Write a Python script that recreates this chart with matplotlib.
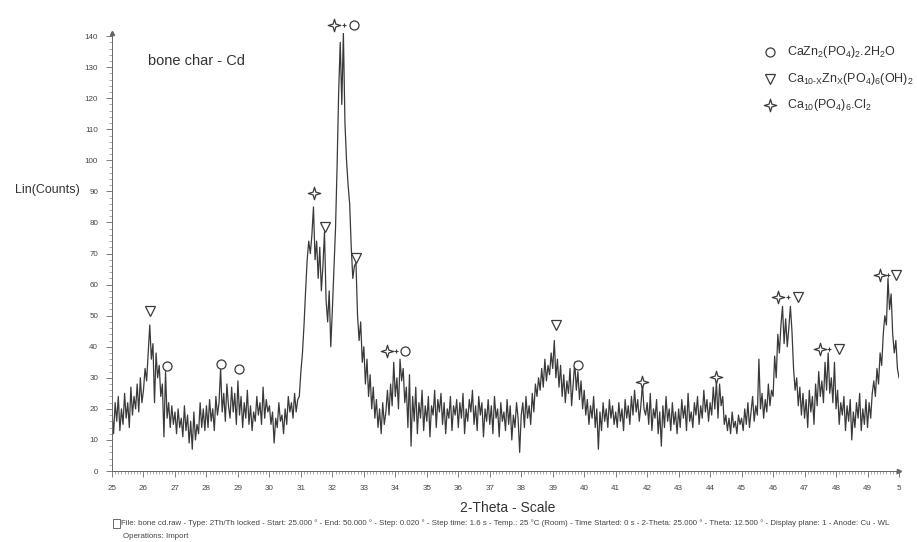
import numpy as np
import matplotlib
matplotlib.use("Agg")
from matplotlib import pyplot as plt
from matplotlib.path import Path
from matplotlib.ticker import MultipleLocator, FixedLocator

plt.rcParams['font.family'] = ['Liberation Sans', 'DejaVu Sans']
plt.rcParams['mathtext.fontset'] = 'custom'
plt.rcParams['mathtext.rm'] = 'Liberation Sans'
plt.rcParams['mathtext.it'] = 'Liberation Sans'

# XRD scan, every 0.05 deg (one row per degree)
start_2theta = 25.0
step_2theta = 0.05
c25 = [19, 12, 22, 16, 24, 13, 20, 15, 25, 17, 22, 14, 27, 18, 24, 20, 28, 19, 30, 22]
c26 = [26, 33, 29, 38, 47, 36, 41, 22, 38, 30, 34, 24, 28, 11, 32, 17, 22, 14, 21, 15]
c27 = [19, 12, 20, 14, 17, 11, 21, 13, 18, 9, 16, 7, 19, 10, 15, 12, 22, 14, 20, 13]
c28 = [21, 14, 23, 16, 20, 13, 24, 18, 22, 33, 19, 25, 16, 28, 21, 17, 27, 19, 25, 15]
c29 = [29, 18, 24, 14, 22, 17, 26, 15, 21, 13, 19, 16, 24, 18, 22, 15, 27, 17, 23, 19]
c30 = [21, 15, 19, 9, 17, 14, 22, 16, 18, 12, 20, 15, 24, 19, 22, 17, 25, 19, 23, 24]
c31 = [32, 38, 47, 58, 68, 74, 70, 76, 85, 68, 74, 62, 72, 58, 66, 77, 55, 48, 58, 40]
c32 = [52, 65, 78, 98, 122, 138, 118, 141, 112, 100, 92, 86, 72, 62, 66, 67, 50, 42, 48, 35]
c33 = [40, 28, 36, 24, 31, 20, 27, 17, 23, 14, 20, 12, 22, 15, 19, 26, 18, 28, 21, 35]
c34 = [24, 30, 20, 36, 29, 33, 22, 27, 14, 31, 8, 24, 16, 27, 12, 22, 17, 26, 13, 21]
c35 = [16, 24, 11, 21, 18, 26, 14, 23, 19, 25, 15, 22, 12, 20, 17, 24, 13, 21, 18, 23]
c36 = [14, 22, 17, 25, 12, 20, 16, 23, 19, 26, 15, 21, 13, 24, 18, 22, 11, 20, 16, 23]
c37 = [15, 21, 12, 24, 17, 20, 11, 22, 16, 19, 13, 23, 15, 21, 10, 18, 14, 22, 17, 6]
c38 = [18, 22, 14, 24, 17, 21, 15, 25, 19, 28, 24, 30, 26, 33, 27, 36, 29, 34, 31, 38]
c39 = [33, 42, 30, 36, 27, 34, 24, 31, 22, 29, 25, 33, 21, 28, 35, 26, 32, 23, 29, 20]
c40 = [26, 18, 23, 15, 21, 17, 24, 14, 20, 7, 19, 13, 22, 16, 20, 14, 23, 17, 21, 15]
c41 = [19, 14, 22, 16, 20, 13, 23, 17, 21, 15, 24, 18, 26, 19, 23, 16, 21, 28, 20, 18]
c42 = [22, 15, 25, 13, 20, 17, 23, 12, 19, 8, 21, 14, 24, 16, 20, 13, 22, 15, 19, 12]
c43 = [20, 14, 23, 17, 21, 13, 25, 16, 19, 14, 22, 18, 24, 15, 21, 17, 26, 19, 23, 16]
c44 = [22, 18, 27, 20, 29, 17, 28, 21, 24, 15, 18, 13, 17, 12, 19, 14, 16, 12, 18, 15]
c45 = [17, 13, 20, 15, 22, 14, 19, 24, 16, 21, 18, 36, 20, 25, 17, 23, 19, 28, 21, 26]
c46 = [24, 37, 30, 44, 38, 47, 53, 41, 49, 40, 46, 53, 45, 33, 26, 30, 21, 27, 18, 25]
c47 = [17, 23, 14, 26, 19, 24, 15, 28, 21, 32, 24, 29, 22, 35, 26, 38, 25, 30, 22, 35]
c48 = [20, 26, 15, 22, 18, 24, 13, 21, 16, 23, 10, 19, 14, 22, 17, 25, 13, 20, 15, 23]
c49 = [14, 22, 17, 25, 29, 24, 33, 28, 38, 34, 44, 50, 47, 62, 52, 57, 44, 38, 42, 33]
c50 = [30]

counts = np.array(c25 + c26 + c27 + c28 + c29 + c30 + c31 + c32 + c33 + c34 + c35 + c36
                  + c37 + c38 + c39 + c40 + c41 + c42 + c43 + c44 + c45 + c46 + c47
                  + c48 + c49 + c50, dtype=float)
two_theta = start_2theta + step_2theta * np.arange(len(counts))

# phase marks: single symbols (2theta, height, kind)
single_marks = [
    (26.2, 51.5, 'v'), (26.75, 33.8, 'o'), (28.47, 34.5, 'o'), (29.05, 32.8, 'o'),
    (31.42, 89.6, 's'), (31.77, 78.5, 'v'), (32.74, 68.5, 'v'),
    (39.1, 47.0, 'v'), (39.8, 34.0, 'o'), (41.85, 28.8, 's'), (44.2, 30.3, 's'),
]
# combined "star + other" marks (star 2theta, other 2theta, height, kind)
combo_marks = [
    (32.06, 32.7, 143.5, 'o'), (33.72, 34.3, 38.6, 'o'), (46.17, 46.78, 56.0, 'v'),
    (47.5, 48.08, 39.3, 'v'), (49.4, 49.9, 63.0, 'v'),
]
legend_labels = [r'CaZn$_2$(PO$_4$)$_2$.2H$_2$O',
                 r'Ca$_{10\text{-}X}$Zn$_X$(PO$_4$)$_6$(OH)$_2$',
                 r'Ca$_{10}$(PO$_4$)$_6$.Cl$_2$']
legend_kinds = ['o', 'v', 's']

x_ticks = list(range(25, 51))
x_tick_labels = [str(v) for v in range(25, 50)] + ['5']

# four pointed star marker
r = 0.22
star_path = Path([(0, 1), (r, r), (1, 0), (r, -r), (0, -1), (-r, -r), (-1, 0), (-r, r), (0, 1)],
                 [Path.MOVETO] + [Path.LINETO] * 7 + [Path.CLOSEPOLY])

ink = '#3a3a3a'
marker_style = {
    'o': dict(marker='o', ms=6.5),
    'v': dict(marker='v', ms=6.5),
    's': dict(marker=star_path, ms=9),
}


def draw_mark(ax, x, y, kind):
    st = marker_style[kind]
    ax.plot([x], [y], linestyle='none', marker=st['marker'], ms=st['ms'], mfc='white',
            mec=ink, mew=0.9, clip_on=False, zorder=5)


fig = plt.figure(figsize=(9.17, 5.42), dpi=100)
ax = fig.add_axes([112 / 917, 1 - 471 / 542, 787 / 917, 438 / 542])

ax.plot(two_theta, counts, color=ink, lw=0.9)

for x, y, kind in single_marks:
    draw_mark(ax, x, y, kind)
for xs, xo, y, kind in combo_marks:
    draw_mark(ax, xs, y, 's')
    ax.plot([(xs + xo) / 2], [y], linestyle='none', marker='+', ms=3.5, mec=ink, mew=0.8,
            clip_on=False, zorder=5)
    draw_mark(ax, xo, y, kind)

# legend drawn by hand, top right
for i, (lab, kind) in enumerate(zip(legend_labels, legend_kinds)):
    y = 134.9 - i * 8.6
    draw_mark(ax, 45.89, y, kind)
    ax.text(46.45, y, lab, fontsize=9, color='#333333', va='center', ha='left')

ax.text(26.14, 132, 'bone char - Cd', fontsize=10.5, color='#333333', va='center', ha='left')

ax.set_xlim(25, 50)
ax.set_ylim(0, 141)
ax.xaxis.set_major_locator(FixedLocator(x_ticks))
ax.set_xticklabels(x_tick_labels)
ax.xaxis.set_minor_locator(MultipleLocator(0.1))
ax.yaxis.set_major_locator(MultipleLocator(10))
ax.yaxis.set_minor_locator(MultipleLocator(2))
ax.tick_params(which='major', length=4, width=0.6, color='#666666', labelsize=5.8,
               labelcolor='#444444', pad=6)
ax.tick_params(which='minor', length=2, width=0.5, color='#888888')
for s in ['top', 'right']:
    ax.spines[s].set_visible(False)
for s in ['left', 'bottom']:
    ax.spines[s].set_color('#666666')
    ax.spines[s].set_linewidth(0.7)
ax.plot([0], [1], marker='^', ms=3, color='#666666', transform=ax.transAxes, clip_on=False)
ax.plot([1], [0], marker='>', ms=3, color='#666666', transform=ax.transAxes, clip_on=False)

fig.text(15 / 917, 1 - 190 / 542, 'Lin(Counts)', fontsize=9, color='#333333', va='center')
fig.text(508 / 917, 1 - 508 / 542, '2-Theta - Scale', fontsize=10, color='#333333',
         va='center', ha='center')
footer = ('File: bone cd.raw - Type: 2Th/Th locked - Start: 25.000 \u00b0 - End: 50.000 \u00b0 - '
          'Step: 0.020 \u00b0 - Step time: 1.6 s - Temp.: 25 \u00b0C (Room) - Time Started: 0 s - '
          '2-Theta: 25.000 \u00b0 - Theta: 12.500 \u00b0 - Display plane: 1 - Anode: Cu - WL')
fig.text(121 / 917, 1 - 523 / 542, footer, fontsize=5.65, color='#444444', va='center')
fig.text(123 / 917, 1 - 536 / 542, 'Operations: Import', fontsize=5.65, color='#444444',
         va='center')
fig.patches.append(plt.Rectangle((113 / 917, 1 - 528 / 542), 7 / 917, 9 / 542, fill=False,
                                 ec='#555555', lw=0.6, transform=fig.transFigure))

fig.savefig('out.png', dpi=100, facecolor='white')
